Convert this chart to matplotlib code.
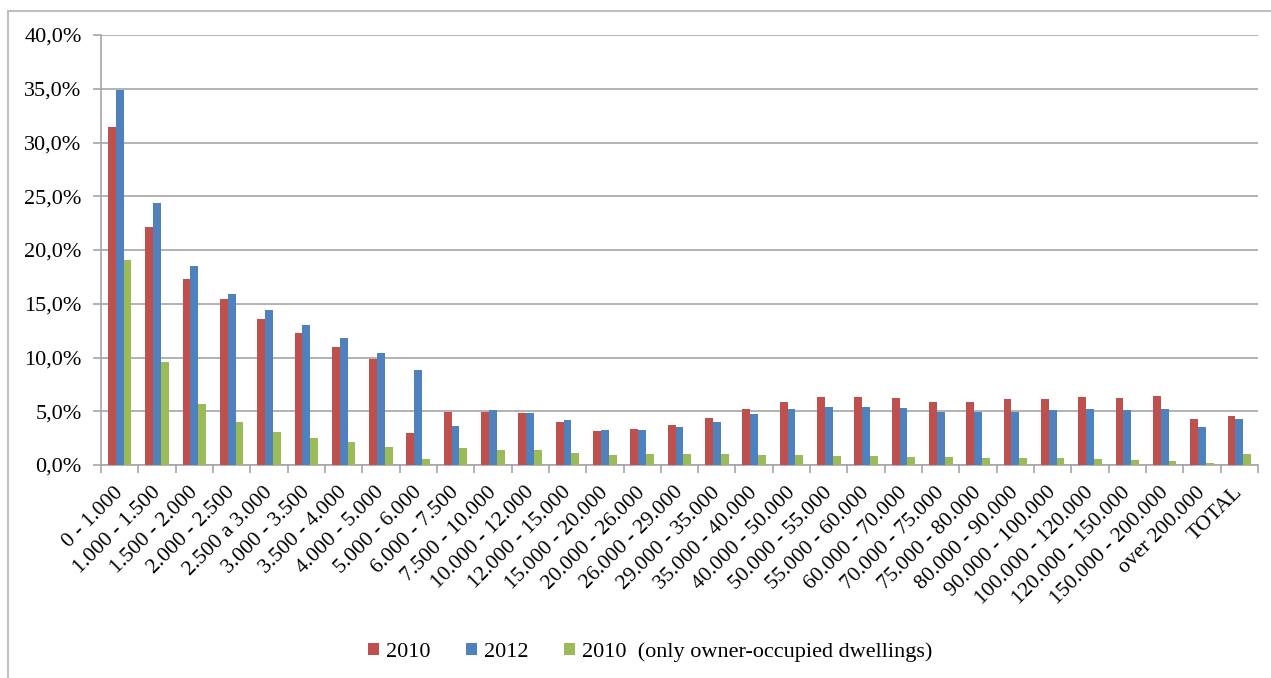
import matplotlib
matplotlib.use("Agg")
import matplotlib.pyplot as plt
import matplotlib.transforms as mtransforms
import numpy as np
from matplotlib.patches import Rectangle
from matplotlib.ticker import FuncFormatter, FixedLocator

plt.rcParams['font.family'] = ['Liberation Serif', 'DejaVu Serif']

categories = ['0 - 1.000', '1.000 - 1.500', '1.500 - 2.000', '2.000 - 2.500',
              '2.500 a 3.000', '3.000 - 3.500', '3.500 - 4.000', '4.000 - 5.000',
              '5.000 - 6.000', '6.000 - 7.500', '7.500 - 10.000', '10.000 - 12.000',
              '12.000 - 15.000', '15.000 - 20.000', '20.000 - 26.000', '26.000 - 29.000',
              '29.000 - 35.000', '35.000 - 40.000', '40.000 - 50.000', '50.000 - 55.000',
              '55.000 - 60.000', '60.000 - 70.000', '70.000 - 75.000', '75.000 - 80.000',
              '80.000 - 90.000', '90.000 - 100.000', '100.000 - 120.000',
              '120.000 - 150.000', '150.000 - 200.000', 'over 200.000', 'TOTAL']

share_2010 = [31.4, 22.1, 17.3, 15.4, 13.6, 12.3, 11.0, 9.9, 2.95, 4.95,
              4.9, 4.8, 3.97, 3.16, 3.35, 3.75, 4.38, 5.2, 5.9, 6.28,
              6.28, 6.2, 5.9, 5.9, 6.1, 6.1, 6.28, 6.2, 6.4, 4.28, 4.6]
share_2012 = [34.9, 24.4, 18.5, 15.9, 14.4, 13.0, 11.8, 10.45, 8.87, 3.66,
              5.1, 4.8, 4.2, 3.25, 3.25, 3.56, 3.97, 4.75, 5.2, 5.37,
              5.37, 5.28, 4.93, 4.93, 4.93, 5.1, 5.2, 5.1, 5.2, 3.5, 4.28]
share_2010_owner = [19.1, 9.55, 5.7, 4.0, 3.1, 2.5, 2.1, 1.7, 0.53, 1.56,
                    1.35, 1.35, 1.15, 0.94, 1.0, 1.0, 1.0, 0.94, 0.94, 0.84,
                    0.84, 0.75, 0.75, 0.65, 0.63, 0.63, 0.53, 0.44, 0.34, 0.22, 1.03]

series = [('2010', share_2010, '#C0504D'),
          ('2012', share_2012, '#4F81BD'),
          ('2010  (only owner-occupied dwellings)', share_2010_owner, '#9BBB59')]

fig = plt.figure(figsize=(12.71, 6.78), dpi=100)
fig.patch.set_facecolor('white')
# outer chart frame
fig.patches.append(Rectangle((8 / 1271, -0.01), 1.1, 1 - 11 / 678 + 0.01,
                             transform=fig.transFigure, fill=False,
                             edgecolor='#BFBFBF', linewidth=1.5))

ax = fig.add_axes([101 / 1271, 1 - 465 / 678, 1157 / 1271, 430 / 678])

x = np.arange(len(categories))
w = 0.21
for i, (name, vals, col) in enumerate(series):
    ax.bar(x + (i - 1) * w, vals, w, color=col, label=name, zorder=3)

ax.set_xlim(-0.5, len(categories) - 0.5)
ax.set_ylim(0, 40)
ax.set_yticks(np.arange(0, 41, 5))
ax.yaxis.set_major_formatter(FuncFormatter(lambda v, p: ('%.1f%%' % v).replace('.', ',')))
ax.grid(axis='y', color='#A6A6A6', linewidth=1.2, zorder=0)

ax.xaxis.set_major_locator(FixedLocator(x))
ax.set_xticklabels(categories, rotation=45, ha='right', rotation_mode='anchor', fontsize=15.5)
ax.tick_params(axis='x', length=0, pad=13)
# nudge the slanted labels a little to the left
shift = mtransforms.ScaledTranslation(-6 / 100, 0, fig.dpi_scale_trans)
for lbl in ax.get_xticklabels():
    lbl.set_transform(lbl.get_transform() + shift)
ax.xaxis.set_minor_locator(FixedLocator(np.arange(-0.5, len(categories), 1)))
ax.tick_params(axis='x', which='minor', length=6, color='#A6A6A6', width=1.2)
ax.tick_params(axis='y', length=6, color='#A6A6A6', width=1.2, labelsize=16, pad=8)

for side in ['top', 'right']:
    ax.spines[side].set_visible(False)
for side in ['left', 'bottom']:
    ax.spines[side].set_color('#A6A6A6')
    ax.spines[side].set_linewidth(1.2)

fig.legend(loc='center', bbox_to_anchor=(650 / 1271, 1 - 652 / 678), ncol=3, frameon=False,
           fontsize=16, handlelength=0.5, handleheight=0.5, handletextpad=0.3,
           columnspacing=1.6)

fig.savefig('out.png', dpi=100)
